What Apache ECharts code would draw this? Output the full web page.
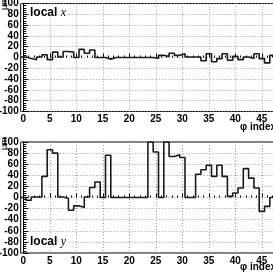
<!DOCTYPE html>
<html><head><meta charset="utf-8">
<script src="https://cdn.jsdelivr.net/npm/echarts@6/dist/echarts.min.js"></script>
<style>html,body{margin:0;padding:0;background:#fff}#c{width:273px;height:273px}</style>
</head><body><div id="c"></div>
<script>
// phi index categories (bin centres)
const phiIndex = [0,1,2,3,4,5,6,7,8,9,10,11,12,13,14,15,16,17,18,19,20,21,22,23,24,25,26,27,28,29,30,31,32,33,34,35,36,37,38,39,40,41,42,43,44,45,46,47];
// local x residual mean (um)
const localX = [1,-2,-4,1,5,-4,10,1,11,10,0,15,8,14,0,0,-3,0,0,0,0,0,0,0,0,-2,4,2,8,4,7,1,1,1,-6,7,-8,-2,7,-5,2,-4,1,-2,7,-2,-10,4];
// local y residual mean (um)
const localY = [0,-5,1,1,38,86,80,1,-2,-23,-15,-18,1,18,28,0,76,0,0,0,0,0,0,0,100,82,0,100,74,77,72,0,0,42,50,58,38,58,38,2,8,17,52,35,17,-25,-16,0];
const yMin = -100, yMax = 100, yStep = 20;
const xStep = 5;
const panelNames = ['x', 'y'];
const xTitle = 'φ index';
const yTitle = 'μm';

const FONT = '"Liberation Sans Narrow","Liberation Sans",sans-serif';

function stepPoints(vals){
  const pts = vals.map((v,i)=>[phiIndex[i]-0.5, v]);
  const last = vals.length-1;
  pts.push([phiIndex[last]+0.5, vals[last]]);
  return pts;
}
const dotted = {color:'#9a9a9a', width:1, type:[1,2]};
const pxPerUnit = 5.3;
const dataLeft = 20.7;
const panels = [{top:3.5,height:108},{top:142,height:111}];

const grid=[], xAxis=[], yAxis=[], series=[];
panels.forEach((p,k)=>{
  grid.push({left:dataLeft, top:p.top, width:pxPerUnit*48, height:p.height, show:true, borderColor:'#000', borderWidth:1, backgroundColor:'transparent', outerBoundsMode:'none', containLabel:false});
  grid.push({left:dataLeft+pxPerUnit*0.5, top:p.top, width:pxPerUnit*50, height:p.height, show:false, outerBoundsMode:'none', containLabel:false});
  const gA = 2*k, gB = 2*k+1;
  xAxis.push({type:'value', gridIndex:gA, min:phiIndex[0]-0.5, max:phiIndex[phiIndex.length-1]+0.5, show:false});
  xAxis.push({type:'value', gridIndex:gB, min:0, max:50, interval:xStep,
    axisLine:{show:false},
    axisTick:{show:true, inside:true, length:4, lineStyle:{color:'#000', width:1}},
    minorTick:{show:true, splitNumber:5, length:2, lineStyle:{color:'#000', width:1}},
    splitLine:{show:true, lineStyle:dotted},
    axisLabel:{margin:3, fontFamily:FONT, fontWeight:'bold', fontSize:10, color:'#000',
      formatter:v=> (v<48 ? String(v) : '')}
  });
  yAxis.push({type:'value', gridIndex:gA, min:yMin, max:yMax, interval:yStep,
    axisLine:{show:true, lineStyle:{color:'#000', width:1}},
    axisTick:{show:true, inside:true, length:5, lineStyle:{color:'#000', width:1}},
    minorTick:{show:true, splitNumber:5, length:3, lineStyle:{color:'#000', width:1}},
    splitLine:{show:true, lineStyle:dotted},
    axisLabel:{margin:2, fontFamily:FONT, fontWeight:'bold', fontSize:10, color:'#000'}
  });
  yAxis.push({type:'value', gridIndex:gB, min:yMin, max:yMax, show:false});
  series.push({type:'line', xAxisIndex:gA, yAxisIndex:gA, step:'end', symbol:'none',
    data: stepPoints(k===0?localX:localY), lineStyle:{color:'#1a1a1a', width:1.6}, z:5, animation:false});
});

function panelLabel(name, x, y){
  return {type:'text', x:x, y:y, z:100,
    style:{text:'{a|local} {b|'+name+'}', backgroundColor:'#fff', padding:[0,1,0,1],
      rich:{a:{fontFamily:FONT, fontWeight:'bold', fontSize:12, fill:'#000'},
            b:{fontFamily:'"Liberation Serif",serif', fontStyle:'italic', fontSize:12, fill:'#000'}},
      verticalAlign:'middle'}};
}
function axisTitleX(y){
  return {type:'text', x:276, y:y, z:100, style:{text:xTitle, align:'right', verticalAlign:'middle',
    fontFamily:FONT, fontWeight:'bold', fontSize:10, fill:'#000'}};
}
function axisTitleY(y){
  return {type:'text', x:4.5, y:y, z:100, rotation:Math.PI/2, style:{text:yTitle, align:'left', verticalAlign:'middle',
    fontFamily:FONT, fontSize:9, fill:'#000'}};
}

const chart = echarts.init(document.getElementById('c'), null, {renderer:'canvas'});
chart.setOption({
  animation:false,
  backgroundColor:'#fff',
  grid, xAxis, yAxis, series,
  graphic:[
    panelLabel(panelNames[0], 29, 12.5),
    panelLabel(panelNames[1], 29, 241.5),
    axisTitleX(127), axisTitleX(267),
    axisTitleY(10), axisTitleY(150)
  ]
});
</script></body></html>
